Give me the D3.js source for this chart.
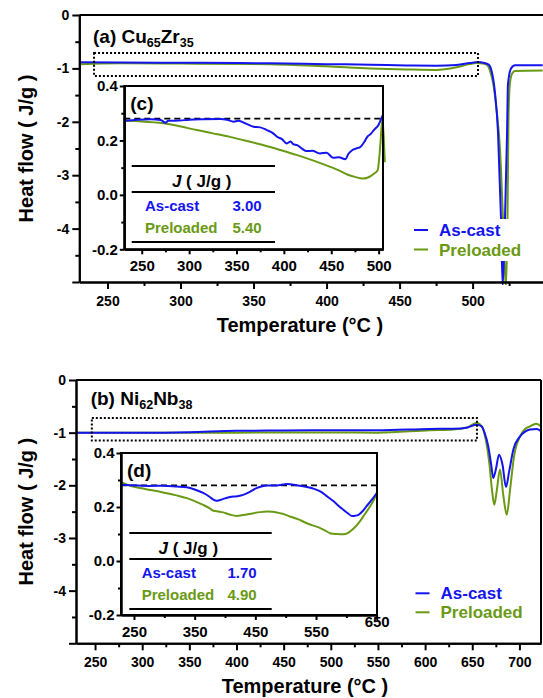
<!DOCTYPE html>
<html>
<head>
<meta charset="utf-8">
<script src="https://cdn.jsdelivr.net/npm/d3@7"></script>
<style>
  body { margin: 0; background: #fff; }
  svg { font-family: "Liberation Sans", Arial, sans-serif; font-weight: bold; }
</style>
</head>
<body>
<svg id="fig" width="543" height="698"></svg>
<script>
// ---- data ----
// (a) Cu65Zr35, full scan
const cuCastT = [230.7, 260, 300, 340, 361, 400, 430, 455, 475, 489, 498, 503.7, 508, 511, 513, 515.3, 517.4, 519.4, 520.6, 522.2, 523.6, 524.2, 526.3, 529, 548];
const cuCastQ = [-0.886, -0.89, -0.895, -0.9, -0.905, -0.92, -0.93, -0.945, -0.95, -0.936, -0.9, -0.88, -0.9, -0.93, -1.05, -1.45, -2.2, -3.78, -5.08, -3.78, -2.2, -1.3, -1.0, -0.94, -0.94];
const cuPreT = [230.7, 231.5, 260, 300, 361, 400, 430, 455, 475, 489, 498, 503, 507, 510, 512, 514, 516.5, 518.8, 520.8, 522.9, 523.9, 524.6, 525.6, 527, 529, 548];
const cuPreQ = [-1.03, -0.92, -0.905, -0.91, -0.92, -0.96, -1.0, -1.02, -1.03, -0.98, -0.92, -0.9, -0.91, -0.94, -1.05, -1.27, -1.8, -2.53, -3.8, -5.08, -3.8, -1.9, -1.27, -1.1, -1.05, -1.04];

// (c) Cu65Zr35, zoom on relaxation region
const cuInCastT = [232, 245, 260, 270, 275, 278, 290, 300, 315, 333, 340, 347, 352, 360, 368, 375, 382, 388, 393, 398, 403, 407, 410, 414, 419, 424, 430, 438, 445, 452, 458, 465, 468, 472, 476, 481, 485, 488, 492, 495, 500, 504];
const cuInCastQ = [0.272, 0.276, 0.278, 0.275, 0.265, 0.272, 0.273, 0.276, 0.278, 0.279, 0.276, 0.269, 0.272, 0.262, 0.25, 0.248, 0.238, 0.228, 0.213, 0.205, 0.189, 0.196, 0.186, 0.183, 0.17, 0.161, 0.162, 0.152, 0.155, 0.136, 0.138, 0.131, 0.15, 0.164, 0.17, 0.177, 0.195, 0.213, 0.225, 0.238, 0.258, 0.291];
const cuInPreT = [232, 250, 273, 290, 308, 325, 343, 360, 378, 396, 414, 432, 449, 458, 467, 475, 483, 488, 492, 496, 499, 501, 502, 504, 505.5, 506.5];
const cuInPreQ = [0.272, 0.27, 0.263, 0.252, 0.238, 0.226, 0.213, 0.199, 0.183, 0.165, 0.146, 0.125, 0.103, 0.09, 0.075, 0.066, 0.06, 0.063, 0.07, 0.08, 0.091, 0.15, 0.195, 0.281, 0.2, 0.12];

// (b) Ni62Nb38, full scan
const niCastT = [230, 270, 300, 350, 400, 450, 500, 550, 605, 630, 645, 654.7, 660, 663, 667, 670, 672.3, 675, 678.4, 682, 685.8, 689, 693.6, 700.7, 706, 711.3, 718.4, 723];
const niCastQ = [-1.0, -1.0, -1.0, -0.99, -0.965, -0.96, -0.955, -0.955, -0.93, -0.925, -0.9, -0.85, -0.88, -1.0, -1.26, -1.6, -1.86, -1.7, -1.42, -1.6, -2.03, -1.75, -1.32, -1.07, -0.98, -0.94, -0.93, -0.97];
const niPreT = [230, 300, 350, 400, 450, 500, 550, 605, 630, 645, 654.7, 658, 661.7, 665, 668.1, 671, 673.4, 676, 679.4, 683, 686.6, 690, 694.3, 700.7, 706, 711.3, 717.6, 723];
const niPreQ = [-1.0, -1.0, -1.0, -1.0, -0.995, -0.995, -1.0, -0.955, -0.94, -0.9, -0.81, -0.84, -0.94, -1.2, -1.58, -2.1, -2.37, -2.1, -1.7, -2.2, -2.56, -2.1, -1.45, -1.07, -0.93, -0.88, -0.83, -0.88];

// (d) Ni62Nb38, zoom on relaxation region
const niInCastT = [230, 250, 275, 298, 320, 337, 350, 364, 375, 381, 386, 392, 400, 408, 420, 430, 440, 452, 460, 469, 485, 502, 520, 535, 547, 557, 568, 579, 587, 595, 602, 609, 615, 620, 627, 633, 642, 650];
const niInCastQ = [0.282, 0.28, 0.278, 0.279, 0.276, 0.273, 0.265, 0.252, 0.237, 0.227, 0.223, 0.226, 0.232, 0.237, 0.24, 0.245, 0.255, 0.27, 0.276, 0.28, 0.28, 0.285, 0.28, 0.274, 0.267, 0.258, 0.24, 0.221, 0.205, 0.19, 0.178, 0.167, 0.168, 0.171, 0.185, 0.202, 0.227, 0.251];
const niInPreT = [230, 245, 260, 280, 298, 320, 337, 350, 364, 375, 381, 390, 397, 408, 419, 430, 440, 447, 458, 469, 478, 485, 495, 507, 520, 535, 547, 557, 566, 573, 585, 595, 602, 606, 614, 622, 630, 639, 645, 650];
const niInPreQ = [0.291, 0.278, 0.27, 0.262, 0.254, 0.243, 0.233, 0.222, 0.208, 0.195, 0.186, 0.183, 0.18, 0.172, 0.167, 0.17, 0.174, 0.177, 0.181, 0.183, 0.182, 0.18, 0.175, 0.165, 0.155, 0.14, 0.13, 0.122, 0.112, 0.103, 0.1, 0.099, 0.103, 0.109, 0.125, 0.146, 0.172, 0.202, 0.225, 0.251];

// zoom window (T from, T to, top, bottom) and the inset baseline
const cuWindow = [240.8, 503.7, -0.712, -1.142];
const niWindow = [246.6, 655, -0.72, -1.15];
const insetBase = 0.28;

// table contents
const seriesNames = ["As-cast", "Preloaded"];
const cuRelax = ["3.00", "5.40"];
const niRelax = ["1.70", "4.90"];

// ticks
const mainYMajor = [0, -1, -2, -3, -4, -5];
const mainYMinor = [-0.5, -1.5, -2.5, -3.5, -4.5];
const cuXMajor = [250, 300, 350, 400, 450, 500];
const cuXMinor = [275, 325, 375, 425, 475, 525];
const niXMajor = [250, 300, 350, 400, 450, 500, 550, 600, 650, 700];
const niXMinor = [275, 325, 375, 425, 475, 525, 575, 625, 675];
const inYMajor = [0.4, 0.2, 0.0, -0.2];
const inYMinor = [0.3, 0.1, -0.1];
const cuInXMajor = [250, 300, 350, 400, 450, 500];
const cuInXMinor = [275, 325, 375, 425, 475];
const niInXMajor = [250, 350, 450, 550, 650];
const niInXMinor = [300, 400, 500, 600];

const BLUE = "#1414ee";
const GREEN = "#6a9a14";

const svg = d3.select("#fig");

function zip(a, b) { return a.map((t, i) => [t, b[i]]); }

function lineGen(x, y) {
  return d3.line().x(d => x(d[0])).y(d => y(d[1])).curve(d3.curveMonotoneX);
}

function styleAxis(sel, size) {
  sel.attr("font-family", null).attr("font-size", size).attr("font-weight", "bold");
  sel.selectAll("path, line").attr("stroke", "#000").attr("stroke-width", 2);
  sel.selectAll("text").attr("fill", "#000");
}

function drawCurves(g, x, y, series) {
  series.forEach(s => {
    g.append("path")
      .datum(zip(s.t, s.q))
      .attr("d", lineGen(x, y))
      .attr("fill", "none")
      .attr("stroke", s.color)
      .attr("stroke-width", 2);
  });
}

function drawInset(c) {
  const x = d3.scaleLinear().domain(c.tDom).range([c.left, c.right]);
  const y = d3.scaleLinear().domain([-0.2, 0.4]).range([c.bottom, c.top]);
  const g = svg.append("g");

  g.append("rect")
    .attr("x", c.left).attr("y", c.top)
    .attr("width", c.right - c.left).attr("height", c.bottom - c.top)
    .attr("fill", "#fff");

  g.append("line")
    .attr("x1", c.left).attr("x2", c.right)
    .attr("y1", y(insetBase)).attr("y2", y(insetBase))
    .attr("stroke", "#000").attr("stroke-width", 1.6)
    .attr("stroke-dasharray", "6,4");

  drawCurves(g, x, y, c.series);

  // axes
  const xa = g.append("g").attr("transform", `translate(0,${c.bottom})`);
  xa.call(d3.axisBottom(x).tickValues(c.xMajor).tickSize(5).tickPadding(6).tickSizeOuter(0).tickFormat(d => String(d)));
  xa.append("g").call(d3.axisBottom(x).tickValues(c.xMinor).tickSize(3).tickSizeOuter(0).tickFormat(""));
  styleAxis(xa, 15);
  if (c.raiseLast) {
    xa.selectAll(".tick text").filter(d => d === c.xMajor[c.xMajor.length - 1])
      .attr("transform", "translate(0,-10)");
  }

  const ya = g.append("g").attr("transform", `translate(${c.left},0)`);
  ya.call(d3.axisLeft(y).tickValues(inYMajor).tickSize(4.5).tickPadding(2).tickSizeOuter(0).tickFormat(d => d.toFixed(1)));
  ya.append("g").call(d3.axisLeft(y).tickValues(inYMinor).tickSize(3).tickSizeOuter(0).tickFormat(""));
  styleAxis(ya, 15);

  g.append("rect")
    .attr("x", c.left).attr("y", c.top)
    .attr("width", c.right - c.left).attr("height", c.bottom - c.top)
    .attr("fill", "none").attr("stroke", "#000").attr("stroke-width", 2);

  g.append("text")
    .attr("x", c.left + 6).attr("y", c.top + 24)
    .attr("font-size", 19)
    .text(c.label);

  // relaxation-enthalpy table
  [80, 106, 156].forEach(dy => {
    g.append("line")
      .attr("x1", c.left + c.tab.x0).attr("x2", c.left + c.tab.x1)
      .attr("y1", c.top + dy).attr("y2", c.top + dy)
      .attr("stroke", "#000").attr("stroke-width", 2);
  });
  const head = g.append("text")
    .attr("x", c.left + c.tab.hx).attr("y", c.top + 101)
    .attr("font-size", 17).attr("text-anchor", "middle");
  head.append("tspan").attr("font-style", "italic").text("J");
  head.append("tspan").text(" ( J/g )");

  const colors = [BLUE, GREEN];
  [125, 147].forEach((dy, i) => {
    g.append("text")
      .attr("x", c.left + 20.7).attr("y", c.top + dy)
      .attr("font-size", 15).attr("fill", colors[i])
      .text(seriesNames[i]);
    g.append("text")
      .attr("x", c.left + c.tab.vx).attr("y", c.top + dy)
      .attr("font-size", 15).attr("fill", colors[i]).attr("text-anchor", "end")
      .text(c.values[i]);
  });
}

function drawMain(c) {
  const x = d3.scaleLinear().domain(c.tDom).range([c.left, c.right]);
  const y = d3.scaleLinear().domain([-5, 0]).range([c.bottom, c.top]);
  const g = svg.append("g");

  const clipId = "clip-" + c.id;
  g.append("clipPath").attr("id", clipId)
    .append("rect")
    .attr("x", c.left).attr("y", c.top)
    .attr("width", c.right - c.left).attr("height", c.bottom - c.top + 3);

  const curves = g.append("g").attr("clip-path", `url(#${clipId})`);
  drawCurves(curves, x, y, c.series);

  // dotted window showing the zoomed region
  const w = c.window;
  g.append("rect")
    .attr("x", x(w[0])).attr("y", y(w[2]))
    .attr("width", x(w[1]) - x(w[0])).attr("height", y(w[3]) - y(w[2]))
    .attr("fill", "none").attr("stroke", "#000")
    .attr("stroke-width", 2).attr("stroke-dasharray", "2,2");

  drawInset(c.inset);

  // legend
  const lg = g.append("g");
  lg.append("rect")
    .attr("x", c.legend.x - 4).attr("y", c.legend.y - 11)
    .attr("width", 112).attr("height", 42)
    .attr("fill", "#fff");
  [BLUE, GREEN].forEach((col, i) => {
    const yy = c.legend.y + i * c.legend.step;
    lg.append("line")
      .attr("x1", c.legend.x).attr("x2", c.legend.x + 14)
      .attr("y1", yy).attr("y2", yy)
      .attr("stroke", col).attr("stroke-width", 2);
    lg.append("text")
      .attr("x", c.legend.x + 25).attr("y", yy).attr("dy", "0.36em")
      .attr("font-size", 17).attr("fill", col)
      .text(seriesNames[i]);
  });

  // axes
  const xa = g.append("g").attr("transform", `translate(0,${c.bottom})`);
  xa.call(d3.axisBottom(x).tickValues(c.xMajor).tickSize(7).tickPadding(7).tickSizeOuter(0).tickFormat(d => String(d)));
  xa.append("g").call(d3.axisBottom(x).tickValues(c.xMinor).tickSize(4).tickSizeOuter(0).tickFormat(""));
  styleAxis(xa, 14);

  const ya = g.append("g").attr("transform", `translate(${c.left},0)`);
  ya.call(d3.axisLeft(y).tickValues(mainYMajor).tickSize(7).tickPadding(3).tickSizeOuter(0).tickFormat(d => d === -5 ? "" : String(d)));
  ya.append("g").call(d3.axisLeft(y).tickValues(mainYMinor).tickSize(4).tickSizeOuter(0).tickFormat(""));
  styleAxis(ya, 14);

  g.append("line")
    .attr("x1", c.left).attr("x2", c.right)
    .attr("y1", c.top).attr("y2", c.top)
    .attr("stroke", "#000").attr("stroke-width", 2);
  if (c.frameRight) {
    g.append("line")
      .attr("x1", c.right).attr("x2", c.right)
      .attr("y1", c.top).attr("y2", c.bottom)
      .attr("stroke", "#000").attr("stroke-width", 2);
  }

  // panel label with subscripts
  const lab = g.append("text")
    .attr("x", c.labelPos[0]).attr("y", c.labelPos[1])
    .attr("font-size", 19);
  c.label.forEach(part => {
    const ts = lab.append("tspan").text(part[0]);
    if (part[1]) ts.attr("font-size", 12.5).attr("dy", 4);
    else if (part[2]) ts.attr("dy", -4);
  });

  // axis titles
  g.append("text")
    .attr("x", c.titleX).attr("y", c.bottom + 50)
    .attr("font-size", 20).attr("text-anchor", "middle")
    .text("Temperature (°C )");
  g.append("text")
    .attr("transform", `translate(33,${(c.top + c.bottom) / 2}) rotate(-90)`)
    .attr("font-size", 20).attr("text-anchor", "middle")
    .text("Heat flow ( J/g )");
}

drawMain({
  id: "a", left: 79.3, right: 543, top: 15, bottom: 282,
  tDom: [230.7, 548.2], frameRight: false,
  xMajor: cuXMajor, xMinor: cuXMinor,
  series: [
    { t: cuPreT, q: cuPreQ, color: GREEN },
    { t: cuCastT, q: cuCastQ, color: BLUE }
  ],
  window: cuWindow,
  legend: { x: 414, y: 230, step: 19.5 },
  labelPos: [93, 43],
  label: [["(a) Cu"], ["65", true], ["Zr", false, true], ["35", true]],
  titleX: 300,
  inset: {
    left: 124.3, right: 383, top: 86, bottom: 249.3,
    tDom: [231.6, 504.6], label: "(c)",
    xMajor: cuInXMajor, xMinor: cuInXMinor, raiseLast: false,
    series: [
      { t: cuInPreT, q: cuInPreQ, color: GREEN },
      { t: cuInCastT, q: cuInCastQ, color: BLUE }
    ],
    tab: { x0: 7.4, x1: 150.7, hx: 77.4, vx: 137.4 },
    values: cuRelax
  }
});

drawMain({
  id: "b", left: 76, right: 541, top: 380, bottom: 643.3,
  tDom: [229.8, 722.9], frameRight: true,
  xMajor: niXMajor, xMinor: niXMinor,
  series: [
    { t: niPreT, q: niPreQ, color: GREEN },
    { t: niCastT, q: niCastQ, color: BLUE }
  ],
  window: niWindow,
  legend: { x: 415.5, y: 593.3, step: 19 },
  labelPos: [90.7, 405],
  label: [["(b) Ni"], ["62", true], ["Nb", false, true], ["38", true]],
  titleX: 305,
  inset: {
    left: 121, right: 377, top: 453, bottom: 615,
    tDom: [228.6, 650.5], label: "(d)",
    xMajor: niInXMajor, xMinor: niInXMinor, raiseLast: true,
    series: [
      { t: niInPreT, q: niInPreQ, color: GREEN },
      { t: niInCastT, q: niInCastQ, color: BLUE }
    ],
    tab: { x0: 8.3, x1: 150.7, hx: 67.3, vx: 135.7 },
    values: niRelax
  }
});
</script>
</body>
</html>
